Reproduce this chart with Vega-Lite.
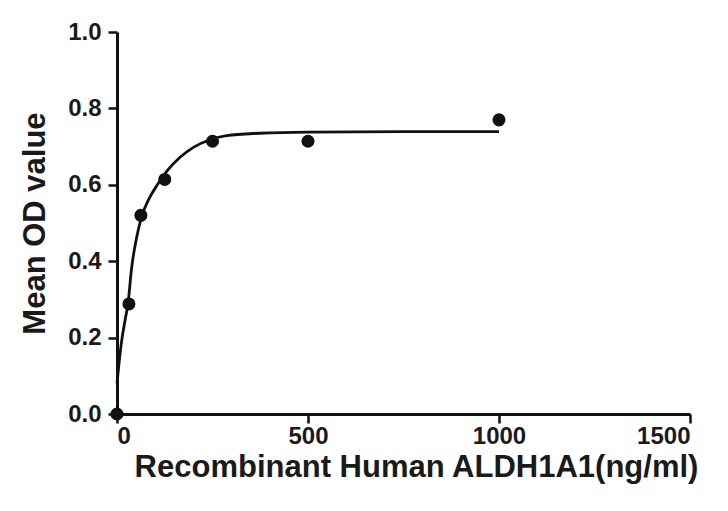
{
  "$schema": "https://vega.github.io/schema/vega-lite/v6.json",
  "width": 573,
  "height": 382,
  "autosize": {"type": "none"},
  "padding": {"left": 117, "top": 32, "right": 38, "bottom": 97},
  "background": "#ffffff",
  "config": {
    "view": {"stroke": null},
    "font": "Liberation Sans",
    "axis": {
      "domainColor": "#111111",
      "domainWidth": 3,
      "tickColor": "#111111",
      "tickWidth": 2.5,
      "tickSize": 9,
      "grid": false,
      "labelFont": "Liberation Sans",
      "labelFontWeight": "bold",
      "labelFontSize": 24,
      "labelColor": "#1a1a1a",
      "titleFont": "Liberation Sans",
      "titleFontWeight": "bold",
      "titleFontSize": 31,
      "titleColor": "#1a1a1a"
    }
  },
  "datasets": {
    "points": [
      {"conc": 0, "od": 0.0},
      {"conc": 31.25, "od": 0.288},
      {"conc": 62.5, "od": 0.52},
      {"conc": 125, "od": 0.614},
      {"conc": 250, "od": 0.714},
      {"conc": 500, "od": 0.714},
      {"conc": 1000, "od": 0.77}
    ],
    "fit": [
      {"conc": 0, "od": 0.08},
      {"conc": 5, "od": 0.13},
      {"conc": 12, "od": 0.19},
      {"conc": 21, "od": 0.245},
      {"conc": 29, "od": 0.29},
      {"conc": 38, "od": 0.38},
      {"conc": 51, "od": 0.46},
      {"conc": 64, "od": 0.515},
      {"conc": 82, "od": 0.56},
      {"conc": 107, "od": 0.602},
      {"conc": 130, "od": 0.635},
      {"conc": 165, "od": 0.672},
      {"conc": 200, "od": 0.698},
      {"conc": 243, "od": 0.718},
      {"conc": 287, "od": 0.729},
      {"conc": 374, "od": 0.735},
      {"conc": 500, "od": 0.738},
      {"conc": 750, "od": 0.739},
      {"conc": 1000, "od": 0.739}
    ]
  },
  "layer": [
    {
      "data": {"name": "fit"},
      "mark": {"type": "line", "color": "#111111", "strokeWidth": 2.8, "interpolate": "monotone", "clip": false},
      "encoding": {
        "x": {
          "field": "conc", "type": "quantitative",
          "scale": {"domain": [0, 1500], "nice": false, "zero": false},
          "axis": {"values": [0, 500, 1000, 1500], "format": "d", "title": "Recombinant Human ALDH1A1(ng/ml)", "titlePadding": 4, "labelPadding": 1, "titleX": 299}
        },
        "y": {
          "field": "od", "type": "quantitative",
          "scale": {"domain": [0, 1], "nice": false},
          "axis": {"values": [0, 0.2, 0.4, 0.6, 0.8, 1.0], "format": ".1f", "title": "Mean OD value", "titlePadding": 16, "labelPadding": 7}
        }
      }
    },
    {
      "data": {"name": "points"},
      "mark": {"type": "point", "shape": "circle", "filled": true, "color": "#111111", "size": 170, "opacity": 1, "clip": false},
      "encoding": {
        "x": {"field": "conc", "type": "quantitative"},
        "y": {"field": "od", "type": "quantitative"}
      }
    }
  ]
}
